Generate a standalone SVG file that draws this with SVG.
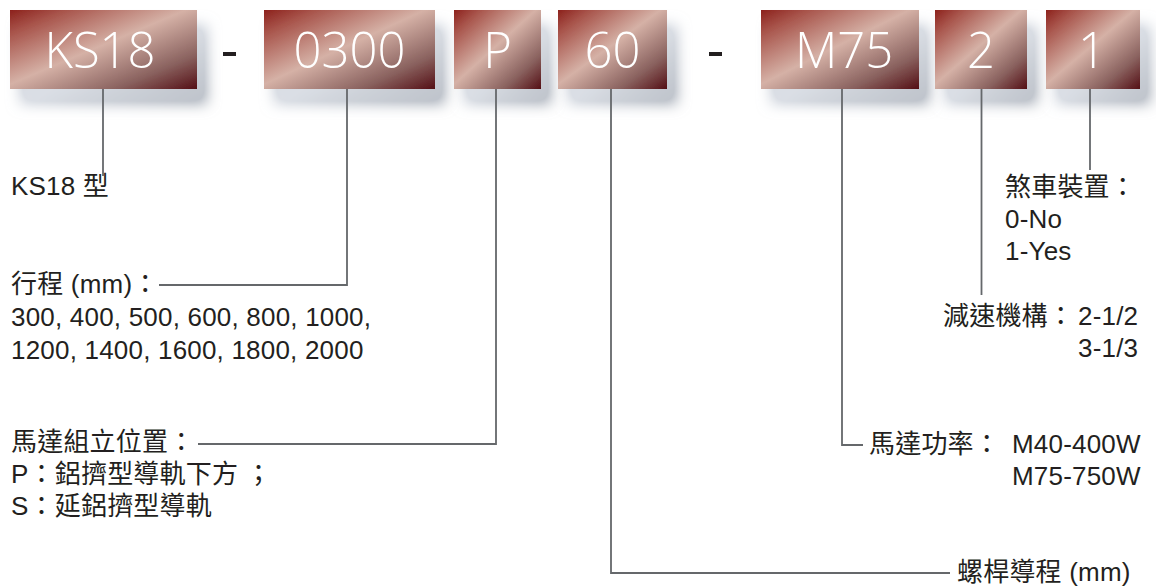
<svg xmlns="http://www.w3.org/2000/svg" width="1156" height="586" viewBox="0 0 1156 586">
<style>
.box{fill:url(#g);filter:url(#sh)}
.bt{font-family:"Open Sans","Liberation Sans",sans-serif;font-size:49px;fill:#ffffff;text-anchor:middle;font-weight:350}
.lb{font-family:"Liberation Sans","Noto Sans CJK TC",sans-serif;font-size:26px;fill:#231f20;letter-spacing:0.2px}
.dash{fill:#231f20}
.con path{fill:none;stroke:#65686b;stroke-width:1.8}
</style>
<defs>
<linearGradient id="g" x1="0" y1="0" x2="1" y2="1">
<stop offset="0" stop-color="#8c211c"/>
<stop offset="0.15" stop-color="#a8544b"/>
<stop offset="0.47" stop-color="#d5b1a6"/>
<stop offset="0.78" stop-color="#8a625f"/>
<stop offset="1" stop-color="#540f15"/>
</linearGradient>
<filter id="sh" x="-20%" y="-20%" width="150%" height="190%">
<feGaussianBlur in="SourceGraphic" stdDeviation="7" result="b"/>
<feOffset in="b" dx="10" dy="15" result="o"/>
<feColorMatrix in="o" type="matrix" values="0.15 0.15 0.15 0 0.5  0.15 0.15 0.15 0 0.53  0.15 0.15 0.15 0 0.58  0 0 0 1.5 0" result="s"/>
<feMerge><feMergeNode in="s"/><feMergeNode in="SourceGraphic"/></feMerge>
</filter>
</defs>
<rect width="1156" height="586" fill="#ffffff"/>

<g id="n-ks18"><rect class="box" x="10" y="10" width="187" height="79"/><text class="bt" x="100" y="68">KS18</text></g>
<g id="n-0300"><rect class="box" x="264" y="10" width="171" height="79"/><text class="bt" x="349.5" y="68">0300</text></g>
<g id="n-p"><rect class="box" x="454" y="10" width="87" height="79"/><text class="bt" x="497.5" y="68">P</text></g>
<g id="n-60"><rect class="box" x="558" y="10" width="109" height="79"/><text class="bt" x="612.5" y="68">60</text></g>
<g id="n-m75"><rect class="box" x="761" y="10" width="158" height="79"/><text class="bt" x="844" y="68">M75</text></g>
<g id="n-2"><rect class="box" x="935" y="10" width="92" height="79"/><text class="bt" x="981" y="68">2</text></g>
<g id="n-1"><rect class="box" x="1046" y="10" width="94" height="79"/><text class="bt" x="1092" y="68">1</text></g>
<g id="dashes"><rect class="dash" x="223" y="52" width="13" height="4"/><rect class="dash" x="709" y="52" width="13" height="4"/></g>

<g id="connectors" class="con">
<path d="M103,89 V176"/>
<path d="M347,89 V285 H159"/>
<path d="M496,89 V444 H198"/>
<path d="M611,89 V573 H950"/>
<path d="M842,89 V445 H863"/>
<path d="M981.5,89 V295"/>
<path d="M1090,89 V170"/>
</g>

<g id="l-ks18"><text class="lb" x="11" y="195">KS18 型</text></g>
<g id="l-stroke">
<text class="lb" x="11" y="293">行程 (mm)：</text>
<text class="lb" x="11" y="326">300, 400, 500, 600, 800, 1000,</text>
<text class="lb" x="11" y="359">1200, 1400, 1600, 1800, 2000</text>
</g>
<g id="l-motorpos">
<text class="lb" x="11" y="451">馬達組立位置：</text>
<text class="lb" x="11" y="483">P：鋁擠型導軌下方 ；</text>
<text class="lb" x="11" y="515">S：延鋁擠型導軌</text>
</g>
<g id="l-brake">
<text class="lb" x="1005" y="196">煞車裝置：</text>
<text class="lb" x="1005" y="228">0-No</text>
<text class="lb" x="1005" y="260">1-Yes</text>
</g>
<g id="l-reducer">
<text class="lb" x="943" y="325">減速機構：</text>
<text class="lb" x="1078" y="325">2-1/2</text>
<text class="lb" x="1078" y="357">3-1/3</text>
</g>
<g id="l-power">
<text class="lb" x="869" y="453">馬達功率：</text>
<text class="lb" x="1012" y="453">M40-400W</text>
<text class="lb" x="1012" y="485">M75-750W</text>
</g>
<g id="l-lead"><text class="lb" x="957" y="581">螺桿導程 (mm)</text></g>
</svg>
